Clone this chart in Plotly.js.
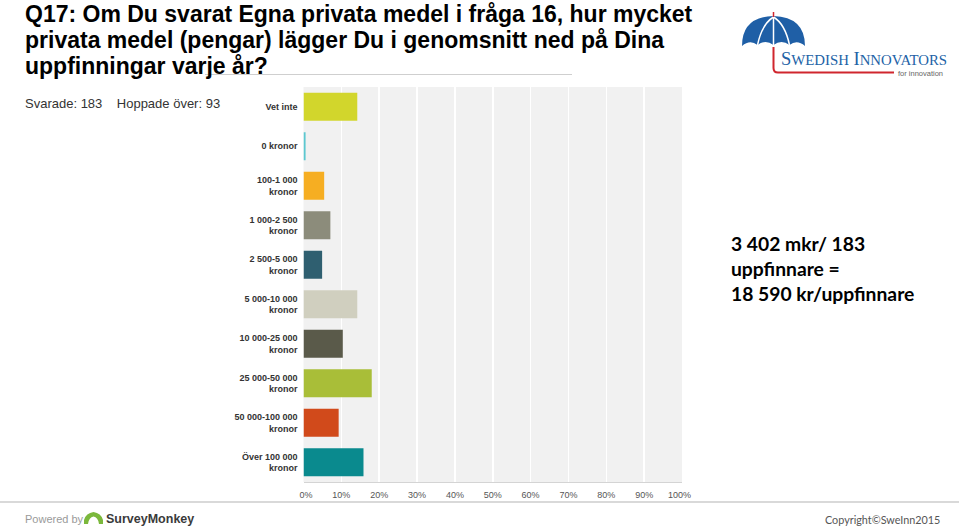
<!DOCTYPE html>
<html>
<head>
<meta charset="utf-8">
<script src="https://cdn.plot.ly/plotly-3.0.1.min.js"></script>
<style>html,body{margin:0;padding:0;background:#fff;}#chart{width:959px;height:531px;}</style>
</head>
<body>
<div id="chart"></div>
<script>
// ---- data ----
const categories = ["Vet inte", "0 kronor", "100-1 000<br>kronor", "1 000-2 500<br>kronor", "2 500-5 000<br>kronor",
  "5 000-10 000<br>kronor", "10 000-25 000<br>kronor", "25 000-50 000<br>kronor", "50 000-100 000<br>kronor", "Över 100 000<br>kronor"];
const percentValues = [14.21, 0.55, 5.46, 7.10, 4.92, 14.21, 10.38, 18.03, 9.29, 15.85];
const barColors = ["#d2d62c", "#5cc8d0", "#f6ae22", "#8c8c7b", "#2f5f70", "#d0cfbf", "#5a5a4a", "#a9be38", "#d14a1b", "#0a8a8e"];
const xTickValues = [0, 10, 20, 30, 40, 50, 60, 70, 80, 90, 100];
const xTickLabels = ["\u00a0\u00a00%", "10%", "20%", "30%", "40%", "50%", "60%", "70%", "80%", "90%", "100%\u00a0\u00a0"];
const titleLines = ["Q17: Om Du svarat Egna privata medel i fråga 16, hur mycket",
  "privata medel (pengar) lägger Du i genomsnitt ned på Dina",
  "uppfinningar varje år?"];
const answeredText = "Svarade: 183\u00a0\u00a0\u00a0\u00a0Hoppade över: 93";
const noteLines = ["3 402 mkr/ 183", "uppfinnare =", "18 590 kr/uppfinnare"];

// ---- layout helpers ----
const W = 959, H = 531;
const px = x => x / W;
const py = y => 1 - y / H;
const path = pts => pts.map(p => (typeof p === 'string') ? p : (px(p[0]) + ',' + py(p[1]))).join(' ');

const trace = {
  type: 'bar', orientation: 'h',
  x: percentValues, y: categories,
  marker: {color: barColors, line: {width: 0}},
  width: 0.71, hoverinfo: 'none'
};

const annotations = [];
const titleCenters = [14, 40, 66];
titleLines.forEach((t, i) => annotations.push({
  text: t, xref: 'paper', yref: 'paper', x: px(23), y: py(titleCenters[i]), xanchor: 'left', yanchor: 'middle',
  showarrow: false, font: {family: 'Liberation Sans, Arial, sans-serif', size: 23, color: '#000', weight: 'bold'}
}));
annotations.push({text: answeredText, xref: 'paper', yref: 'paper', x: px(23), y: py(103), xanchor: 'left', yanchor: 'middle',
  showarrow: false, font: {family: 'Liberation Sans, Arial, sans-serif', size: 13, color: '#333'}});
annotations.push({text: noteLines.join('<br>'), xref: 'paper', yref: 'paper', x: px(729), y: py(268), xanchor: 'left', yanchor: 'middle',
  align: 'left', showarrow: false, font: {family: 'Lato, Open Sans, sans-serif', size: 19.3, color: '#000', weight: 'bold'}});
// logo texts
annotations.push({text: 'S<span style="font-size:14.8px">WEDISH</span> I<span style="font-size:14.8px">NNOVATORS</span>',
  xref: 'paper', yref: 'paper', x: px(779), y: py(59), xanchor: 'left', yanchor: 'middle', showarrow: false,
  font: {family: 'Liberation Serif, DejaVu Serif, serif', size: 18.5, color: '#2262a6'}});
annotations.push({text: 'for innovation', xref: 'paper', yref: 'paper', x: px(896), y: py(73), xanchor: 'left', yanchor: 'middle',
  showarrow: false, font: {family: 'Liberation Sans, Arial, sans-serif', size: 7.5, color: '#666'}});
// footer texts
annotations.push({text: 'Powered by', xref: 'paper', yref: 'paper', x: px(23), y: py(519), xanchor: 'left', yanchor: 'middle',
  showarrow: false, font: {family: 'Liberation Sans, Arial, sans-serif', size: 11, color: '#9a9a9a'}});
annotations.push({text: 'SurveyMonkey', xref: 'paper', yref: 'paper', x: px(104), y: py(519), xanchor: 'left', yanchor: 'middle',
  showarrow: false, font: {family: 'Liberation Sans, Arial, sans-serif', size: 12.5, color: '#3a3a3a', weight: 'bold'}});
annotations.push({text: 'Copyright©SweInn2015', xref: 'paper', yref: 'paper', x: px(942), y: py(519), xanchor: 'right', yanchor: 'middle',
  showarrow: false, font: {family: 'Lato, Open Sans, sans-serif', size: 10.8, color: '#555'}});

const shapes = [
  // title underline
  {type: 'line', xref: 'paper', yref: 'paper', x0: px(205), x1: px(572), y0: py(74.5), y1: py(74.5), line: {color: '#cfcfcf', width: 1}, layer: 'below'},
  // footer line
  {type: 'line', xref: 'paper', yref: 'paper', x0: 0, x1: 1, y0: py(502), y1: py(502), line: {color: '#cccccc', width: 1.5}},
  // umbrella dome
  {type: 'path', xref: 'paper', yref: 'paper', fillcolor: '#1f5fa6', line: {width: 0},
    path: path(['M', [742, 46], 'Q', [742, 17], [773.5, 16], 'Q', [805, 17], [805, 46],
      'Q', [797, 39], [789.5, 45], 'Q', [781.5, 39], [773.5, 45], 'Q', [765.5, 39], [757.5, 45], 'Q', [750, 39], [742, 46], 'Z'])},
  // umbrella ribs
  {type: 'path', xref: 'paper', yref: 'paper', line: {color: '#ffffff', width: 1.5},
    path: path(['M', [773.5, 17], 'Q', [762, 24], [757.5, 45]])},
  {type: 'path', xref: 'paper', yref: 'paper', line: {color: '#ffffff', width: 1.5},
    path: path(['M', [773.5, 17], 'Q', [785, 24], [789.5, 45]])},
  {type: 'line', xref: 'paper', yref: 'paper', x0: px(773.5), x1: px(773.5), y0: py(17), y1: py(45), line: {color: '#ffffff', width: 1.5}},
  // umbrella tip
  {type: 'line', xref: 'paper', yref: 'paper', x0: px(773.5), x1: px(773.5), y0: py(12), y1: py(17), line: {color: '#d0262e', width: 1.5}},
  // handle
  {type: 'path', xref: 'paper', yref: 'paper', line: {color: '#d0262e', width: 2},
    path: path(['M', [773.5, 47], 'L', [773.5, 68], 'Q', [773.5, 72.5], [778, 72.5], 'L', [894, 72.5]])},
  // SurveyMonkey icon
  {type: 'path', xref: 'paper', yref: 'paper', fillcolor: '#7bb83c', line: {width: 0},
    path: path(['M', [84, 524], 'L', [84, 520], 'Q', [86, 513], [93.5, 512], 'Q', [101, 513], [103, 520], 'L', [103, 524],
      'L', [99, 524], 'Q', [98, 517], [93.5, 516.5], 'Q', [89, 517], [88, 524], 'Z'])}
];

const layout = {
  width: W, height: H,
  margin: {l: 0, r: 0, t: 0, b: 0},
  paper_bgcolor: '#ffffff', plot_bgcolor: '#f1f1f1',
  showlegend: false,
  bargap: 0.29,
  xaxis: {
    domain: [px(303.5), px(682)], range: [0, 100], fixedrange: true,
    tickvals: xTickValues, ticktext: xTickLabels, ticks: '',
    showgrid: true, gridcolor: '#ffffff', gridwidth: 1.5, zeroline: false,
    showline: true, linecolor: '#d4d4d4', linewidth: 1,
    tickfont: {family: 'Liberation Sans, Arial, sans-serif', size: 9, color: '#555'},
    ticklabelstandoff: 4
  },
  yaxis: {
    domain: [py(482), py(87)], type: 'category', categoryorder: 'array', categoryarray: categories,
    autorange: 'reversed', fixedrange: true, showgrid: false, zeroline: false, showline: false, ticks: '',
    tickfont: {family: 'Liberation Sans, Arial, sans-serif', size: 9, color: '#333', weight: 'bold'},
    ticklabelstandoff: 5
  },
  annotations: annotations,
  shapes: shapes
};

Plotly.newPlot('chart', [trace], layout, {displayModeBar: false, staticPlot: true});
</script>
</body>
</html>
